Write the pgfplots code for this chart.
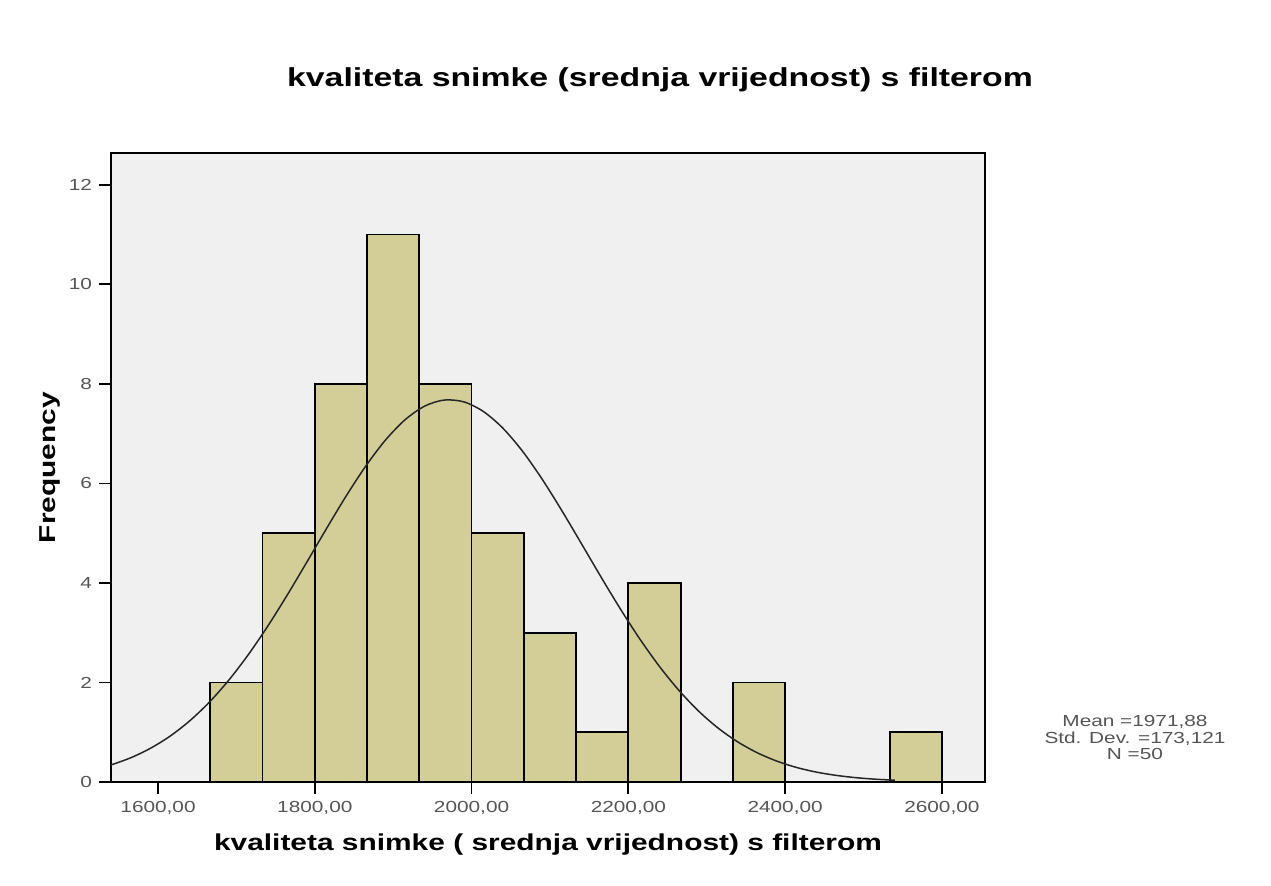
\documentclass[border=0pt]{standalone}
\usepackage{fontspec}
\setmainfont{Liberation Sans}[FakeStretch=1.3]
\usepackage{pgfplots}
\pgfplotsset{compat=1.18}
\definecolor{barfill}{RGB}{211,206,152}
\definecolor{plotbg}{RGB}{240,240,240}
\definecolor{ticktext}{RGB}{85,85,85}
\begin{document}
\begin{tikzpicture}[x=1pt,y=1pt]
\path[use as bounding box] (0,0) rectangle (635.5,443);
\begin{axis}[
  at={(55.5pt,52pt)}, anchor=south west,
  scale only axis, width=437pt, height=314.5pt,
  xmin=1540, xmax=2655, ymin=0, ymax=12.64,
  axis background/.style={fill=plotbg},
  axis line style={line width=1pt, black},
  xtick={1600,1800,2000,2200,2400,2600},
  xticklabels={{1600,00},{1800,00},{2000,00},{2200,00},{2400,00},{2600,00}},
  ytick={0,2,4,6,8,10,12},
  tick align=outside, tick pos=left,
  major tick length=6pt,
  tick style={black, line width=0.9pt},
  xticklabel style={font=\fontsize{8}{9}\selectfont, text=ticktext},
  yticklabel style={font=\fontsize{8}{9}\selectfont, text=ticktext},
  /pgf/number format/assume math mode=true,
  xlabel={\textbf{kvaliteta snimke ( srednja vrijednost) s filterom}},
  xlabel style={font=\fontsize{11.5}{13}\selectfont, yshift=-3pt},
  ylabel={\textbf{Frequency}},
  ylabel style={font=\fontsize{11.5}{13}\selectfont, yshift=-2.5pt},
  clip=true,
]
\addplot[ybar interval, fill=barfill, draw=black, line width=0.9pt] coordinates {
(1666.67,2) (1733.33,5) (1800,8) (1866.67,11) (1933.33,8) (2000,5)
(2066.67,3) (2133.33,1) (2200,4) (2266.67,0) (2333.33,2) (2400,0)
(2466.67,0) (2533.33,1) (2600,1)};
\addplot[smooth, black!85, line width=0.75pt] coordinates {
(1540,0.342) (1565,0.485) (1590,0.674) (1615,0.917) (1640,1.223) (1665,1.596)
(1690,2.041) (1715,2.555) (1740,3.132) (1765,3.761) (1790,4.423) (1815,5.094)
(1840,5.747) (1865,6.348) (1890,6.868) (1915,7.277) (1940,7.552) (1965,7.675)
(1990,7.639) (2015,7.446) (2040,7.109) (2065,6.647) (2090,6.086) (2115,5.457)
(2140,4.793) (2165,4.123) (2190,3.473) (2215,2.865) (2240,2.315) (2265,1.832)
(2290,1.419) (2315,1.077) (2340,0.801) (2365,0.583) (2390,0.416) (2415,0.290)
(2440,0.198) (2465,0.133) (2490,0.087) (2515,0.056) (2540,0.035)};
\end{axis}
\node[font=\bfseries\fontsize{13}{15}\selectfont] at (330,403) {kvaliteta snimke (srednja vrijednost) s filterom};
\node[font=\fontsize{8}{8.25}\selectfont, text=ticktext, align=center] at (567.5,74) {Mean =1971,88\\Std. Dev. =173,121\\N =50};
\end{tikzpicture}
\end{document}
